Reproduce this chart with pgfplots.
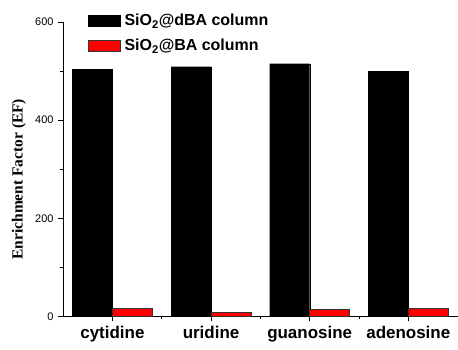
\documentclass[border=0pt]{standalone}
\usepackage{fontspec}
\setmainfont{Liberation Sans}
\newfontfamily\timesf{Liberation Serif}
\usepackage{pgfplots}
\pgfplotsset{compat=1.18}
\definecolor{barred}{RGB}{255,0,0}
\begin{document}
\begin{tikzpicture}
\begin{axis}[
  scale only axis,
  width=394bp, height=294bp,
  xmin=-0.5, xmax=3.5,
  ymin=0, ymax=600,
  axis lines*=left,
  axis line style={line width=0.8pt},
  tick align=outside,
  major tick length=5bp,
  minor tick length=3bp,
  every tick/.style={black, line width=0.8pt},
  xtick={0,1,2,3},
  xticklabels={cytidine,uridine,guanosine,adenosine},
  minor xtick={0.5,1.5,2.5},
  ytick={0,200,400,600},
  minor ytick={100,300,500},
  /pgf/number format/assume math mode=true,
  yticklabel style={font=\fontsize{11}{13}\selectfont, xshift=-1bp},
  xticklabel style={font=\bfseries\fontsize{17}{20}\selectfont, yshift=-1bp},
  ylabel={\timesf\bfseries Enrichment Factor (EF)},
  ylabel style={font=\fontsize{15.5}{18}\selectfont, at={(axis description cs:-0.112,0.466)}, anchor=center},
  ybar, bar width=0.405,
  legend style={draw=none, fill=none, at={(rel axis cs:0.063,1.035)}, anchor=north west,
    font=\bfseries\fontsize{16}{19}\selectfont, row sep=8bp, inner sep=0pt,
    /tikz/every even column/.append style={column sep=3bp}},
  legend cell align=left,
  legend image code/.code={\draw[#1] (0bp,-5.5bp) rectangle (32bp,5.5bp);},
]
\addplot[fill=black, draw=black, line width=0.3pt, bar shift=-0.2025] coordinates {(0,503) (1,509) (2,515) (3,500)};
\addlegendentry{\hspace{2bp}SiO$_{\mathbf{2}}$@dBA column}
\addplot[fill=barred, draw=black!80, line width=0.4pt, bar shift=0.2025] coordinates {(0,17) (1,8) (2,14) (3,16)};
\addlegendentry{\hspace{2bp}SiO$_{\mathbf{2}}$@BA column}
\end{axis}
\path ([xshift=-63bp,yshift=-33.3bp]current axis.south west) ([yshift=22bp]current axis.north east);
\end{tikzpicture}
\end{document}
